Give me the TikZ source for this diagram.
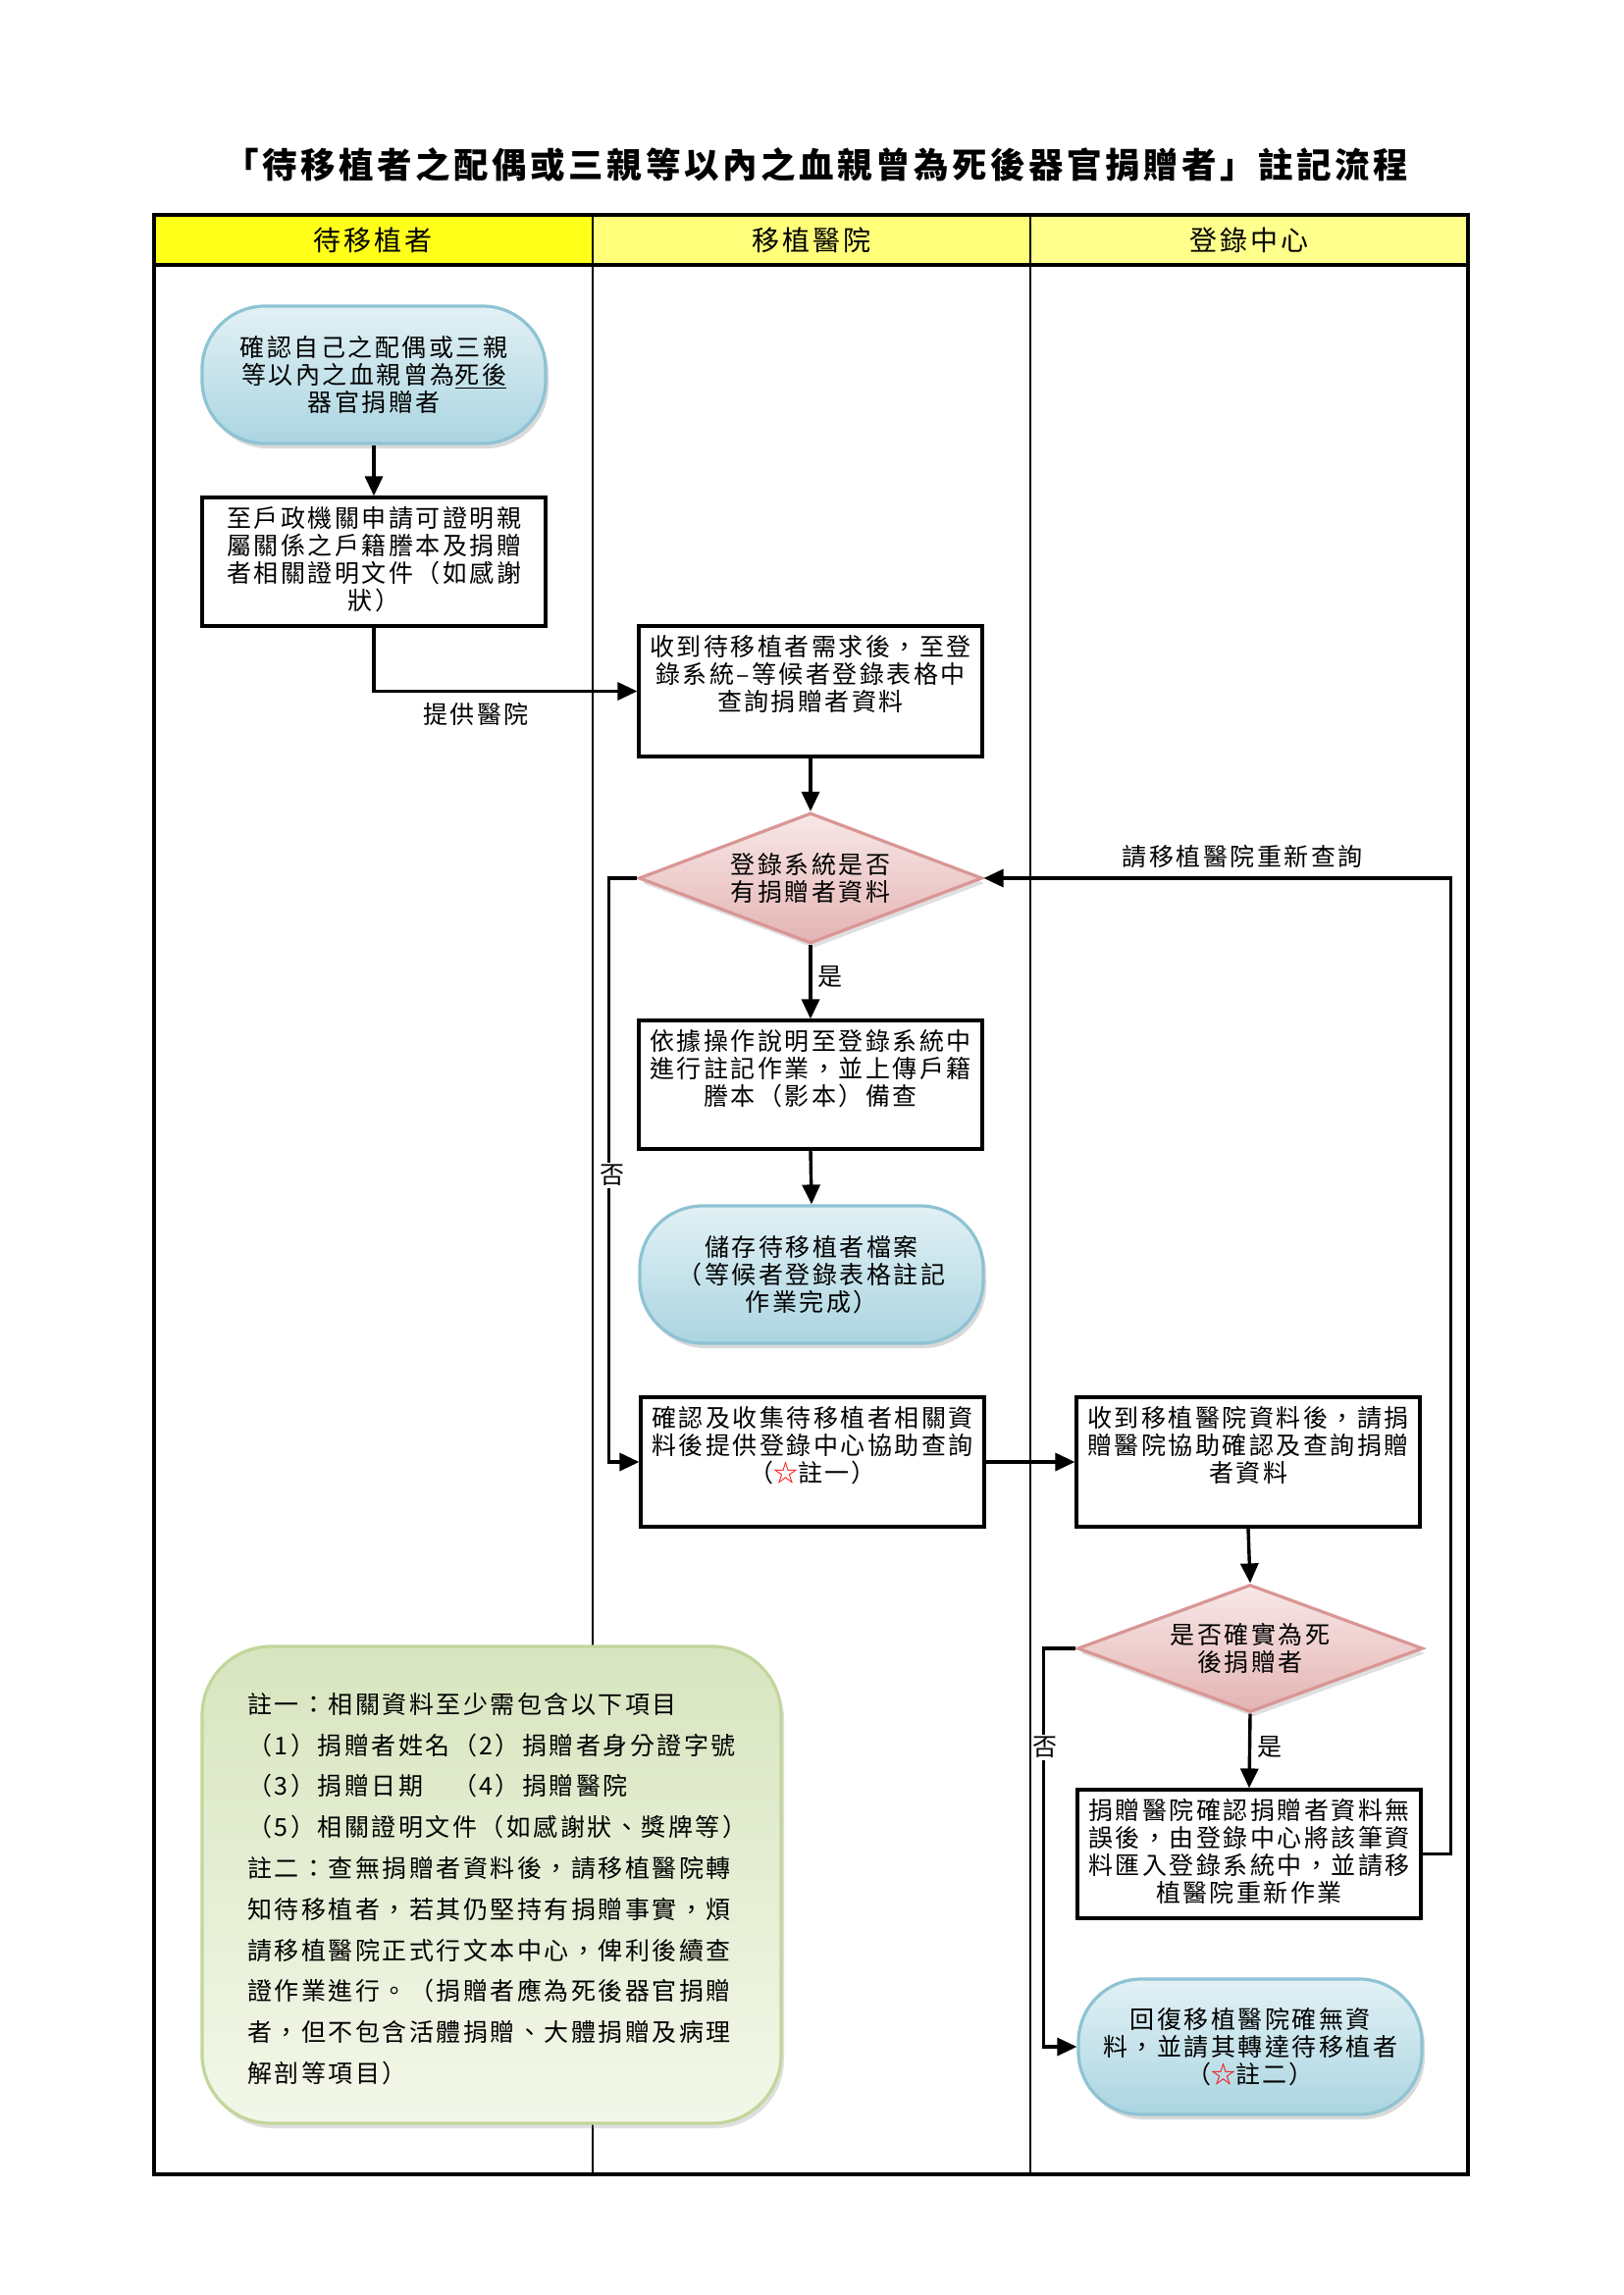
\documentclass[tikz,border=0pt]{standalone}
\usepackage{fontspec}
\setmainfont[LetterSpace=10]{Noto Sans CJK TC}
\usetikzlibrary{arrows.meta,shapes.geometric,shadows}
\definecolor{hdrA}{HTML}{FFFF1A}
\definecolor{hdrB}{HTML}{FFFF7A}
\definecolor{hdrC}{HTML}{FFFF8C}
\definecolor{termline}{HTML}{8EC3D3}
\definecolor{termtop}{HTML}{E2F1F5}
\definecolor{termbot}{HTML}{ABD5E1}
\definecolor{diaLine}{HTML}{D99694}
\definecolor{diaTop}{HTML}{F8E8E8}
\definecolor{diaBot}{HTML}{E4B4B3}
\definecolor{noteLine}{HTML}{C3D69B}
\definecolor{noteTop}{HTML}{D8E5BF}
\definecolor{noteBot}{HTML}{F3F7E9}
\newcommand{\tbox}[2]{\begin{minipage}[c][#1][t]{338pt}\centering #2\end{minipage}}
\begin{document}
\begin{tikzpicture}[x=1pt,y=-1pt,
  font=\fontsize{25}{28}\selectfont,
  arr/.style={line width=3.4pt,-{Triangle[length=20pt,width=18pt]}},
  proc/.style={draw,line width=3.2pt,fill=white,inner xsep=6pt,inner ysep=9pt,minimum width=350pt},
  term/.style={draw=termline,line width=3.2pt,rounded corners=64pt,top color=termtop,bottom color=termbot,
    minimum width=350pt,minimum height=140pt,align=center,inner sep=0pt,
    drop shadow={shadow xshift=3pt,shadow yshift=-5pt,opacity=0.3}},
  deci/.style={diamond,draw=diaLine,line width=3.2pt,top color=diaTop,bottom color=diaBot,
    aspect=2.65,minimum width=350pt,minimum height=133pt,inner sep=0pt,align=center,
    drop shadow={shadow xshift=3pt,shadow yshift=-5pt,opacity=0.25}},
  hdr/.style={font=\fontsize{28}{30}\selectfont},
  lbl/.style={inner sep=1pt},
  nolbl/.style={fill=white,inner sep=2pt},
]
\useasboundingbox (0,0) rectangle (1654,2339);

% title
\node (title) at (832,168) {\fontsize{35.5}{38}\selectfont\bfseries 「待移植者之配偶或三親等以內之血親曾為死後器官捐贈者」註記流程};

% table
\fill[hdrA] (157,219) rectangle (604,270);
\fill[hdrB] (604,219) rectangle (1050,270);
\fill[hdrC] (1050,219) rectangle (1496,270);
\draw[line width=2.2pt] (604,219) -- (604,2216);
\draw[line width=2.2pt] (1050,219) -- (1050,2216);
\draw[line width=3.8pt] (157,270) -- (1496,270);
\draw[line width=3.2pt] (157,219) rectangle (1496,2216);
\node[hdr] (h1) at (380,245) {待移植者};
\node[hdr] (h2) at (827,245) {移植醫院};
\node[hdr] (h3) at (1273,245) {登錄中心};

% notes box
\node[draw=noteLine,line width=3.2pt,rounded corners=70pt,top color=noteTop,bottom color=noteBot,
  minimum width=590pt,minimum height=486pt,
  drop shadow={shadow xshift=3pt,shadow yshift=-5pt,opacity=0.25}] (notes) at (501,1921) {};
\node[anchor=north west,align=left,font=\fontsize{25}{41.8}\selectfont,inner sep=0pt] (ntext) at (252,1725)
{註一：相關資料至少需包含以下項目\\
（1）捐贈者姓名（2）捐贈者身分證字號\\
（3）捐贈日期　（4）捐贈醫院\\
（5）相關證明文件（如感謝狀、獎牌等）\\
註二：查無捐贈者資料後，請移植醫院轉\\
知待移植者，若其仍堅持有捐贈事實，煩\\
請移植醫院正式行文本中心，俾利後續查\\
證作業進行。（捐贈者應為死後器官捐贈\\
者，但不包含活體捐贈、大體捐贈及病理\\
解剖等項目）};

% column 1
\node[term] (t1) at (381,382) {確認自己之配偶或三親\\等以內之血親曾為\underline{死後}\\器官捐贈者};
\node[proc] (b2) at (381,572.5) {\tbox{113pt}{至戶政機關申請可證明親\\屬關係之戶籍謄本及捐贈\\者相關證明文件（如感謝\\狀）}};

% column 2
\node[proc] (b3) at (826,704.5) {\tbox{115pt}{收到待移植者需求後，至登\\錄系統–等候者登錄表格中\\查詢捐贈者資料}};
\node[deci] (d1) at (826,895) {登錄系統是否\\有捐贈者資料};
\node[proc] (b4) at (826,1105.5) {\tbox{113pt}{依據操作說明至登錄系統中\\進行註記作業，並上傳戶籍\\謄本（影本）備查}};
\node[term] (t2) at (827,1299) {儲存待移植者檔案\\（等候者登錄表格註記\\作業完成）};
\node[proc] (b5) at (828,1490) {\tbox{114pt}{確認及收集待移植者相關資\\料後提供登錄中心協助查詢\\（{\color{red}☆}註一）}};

% column 3
\node[proc] (b6) at (1272,1490) {\tbox{114pt}{收到移植醫院資料後，請捐\\贈醫院協助確認及查詢捐贈\\者資料}};
\node[deci,minimum width=352pt,minimum height=130pt] (d2) at (1274,1680) {是否確實為死\\後捐贈者};
\node[proc] (b7) at (1273,1889.5) {\tbox{113pt}{捐贈醫院確認捐贈者資料無\\誤後，由登錄中心將該筆資\\料匯入登錄系統中，並請移\\植醫院重新作業}};
\node[term,minimum height=138pt] (t3) at (1274,2086) {回復移植醫院確無資\\料，並請其轉達待移植者\\（{\color{red}☆}註二）};

% connectors
\draw[arr] (t1.south) -- (b2.north);
\draw[arr] (b2.south) |- (b3.west);
\node[lbl] (lprov) at (485,728) {提供醫院};
\draw[arr] (b3.south) -- (d1.north);
\draw[arr] (d1.south) -- (b4.north);
\node[lbl] (lyes1) at (846,996) {是};
\draw[arr] (b4.south) -- (t2.north);
\draw[arr] (d1.west) -- ++(-29,0) |- (b5.west);
\node[nolbl] (lno1) at (624,1198) {否};
\draw[arr] (b5.east) -- (b6.west);
\draw[arr] (b6.south) -- (d2.north);
\draw[arr] (d2.south) -- (b7.north);
\node[lbl] (lyes2) at (1294,1781) {是};
\draw[arr] (b7.east) -- ++(29,0) |- (d1.east);
\node[lbl] (lretry) at (1266,873) {請移植醫院重新查詢};
\draw[arr] (d2.west) -- ++(-33,0) |- (t3.west);
\node[nolbl] (lno2) at (1065,1781) {否};
\end{tikzpicture}
\end{document}
